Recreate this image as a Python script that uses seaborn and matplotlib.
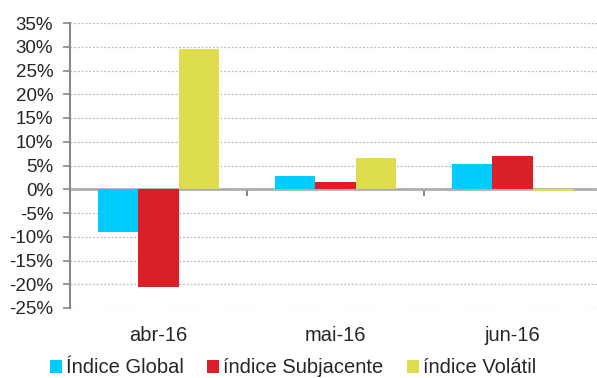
import matplotlib
matplotlib.use("Agg")
import matplotlib.pyplot as plt
import seaborn as sns
import pandas as pd
import numpy as np
from matplotlib.ticker import FuncFormatter, FixedLocator

categories = ["abr-16", "mai-16", "jun-16"]
series = ["Índice Global", "índice Subjacente", "índice Volátil"]
global_vals = [-9.1, 2.8, 5.4]
subj_vals = [-20.6, 1.6, 7.0]
vol_vals = [29.5, 6.6, -0.3]
colors = ["#00CCFF", "#DA1F28", "#DDDD4E"]
yticks = list(range(-25, 36, 5))

rows = []
for s, vals in zip(series, [global_vals, subj_vals, vol_vals]):
    for c, v in zip(categories, vals):
        rows.append({"cat": c, "serie": s, "val": v})
df = pd.DataFrame(rows)

sns.set_style("white")
plt.rcParams['font.family'] = ['Liberation Sans', 'DejaVu Sans']

fig = plt.figure(figsize=(5.97, 3.78), dpi=100)
ax = fig.add_axes([70/597, 1-308/378, 531/597, (308-23)/378])

sns.barplot(data=df, x="cat", y="val", hue="serie", palette=colors,
            width=0.68, saturation=1, ax=ax, errorbar=None, legend=True,
            linewidth=0, edgecolor="none")

ax.set_ylim(-25, 35)
ax.set_xlim(-0.5, 2.5)
ax.set_yticks(yticks)
ax.yaxis.set_major_formatter(FuncFormatter(lambda v, p: f"{int(round(v))}%"))
ax.grid(axis="y", color="#BBBBBB", linestyle=(0, (1.5, 1.5)), linewidth=0.9)
ax.set_axisbelow(True)
for sp in ["top", "right", "bottom"]:
    ax.spines[sp].set_visible(False)
ax.spines["left"].set_color("#888888")
ax.spines["left"].set_linewidth(1.5)
ax.tick_params(axis="y", direction="out", length=5, color="#888888", width=1.2,
               labelsize=13.5, pad=7, left=True)
ax.tick_params(axis="x", length=0, labelsize=14.5, pad=13)
ax.set_xlabel("")
ax.set_ylabel("")

# zero axis line with category separator ticks
sec = ax.secondary_xaxis(25/60)
sec.xaxis.set_major_locator(FixedLocator([0.5, 1.5]))
sec.set_xticklabels(["", ""])
sec.tick_params(direction="out", length=5, color="#888888", width=1.5)
sec.spines["bottom"].set_color("#A0A0A0")
sec.spines["bottom"].set_linewidth(1.8)

leg = ax.legend(loc="center", bbox_to_anchor=(0.42, -0.21), ncol=3,
                frameon=False, fontsize=14.5, handlelength=0.6, handleheight=0.6,
                handletextpad=0.2, columnspacing=1.15, borderaxespad=0)

fig.savefig("out.png", dpi=100)
